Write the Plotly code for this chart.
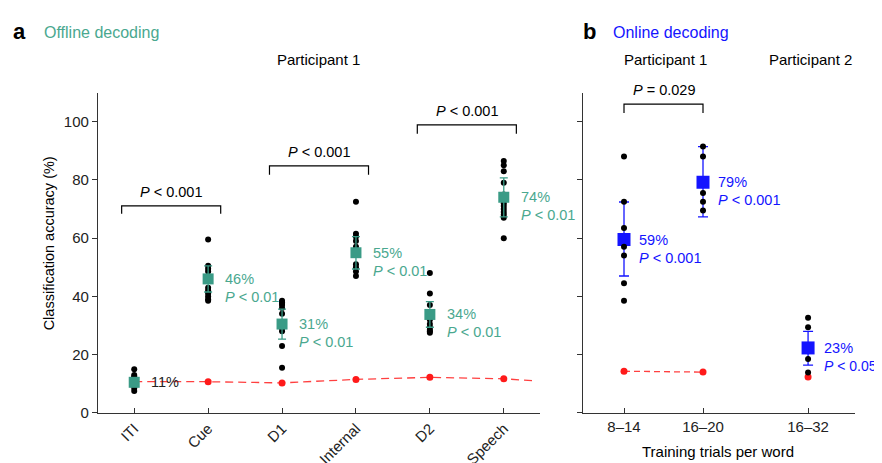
import plotly.graph_objects as go

# ---------------- data ----------------
categories = ["ITI", "Cue", "D1", "Internal", "D2", "Speech"]
iti_pts = [15, 13, 12.5, 12, 11, 10, 9.5, 8.5, 7.5]
cue_pts = [59.5, 50.5, 49.5, 48.5, 43, 42, 41, 40, 39, 38.5]
d1_pts = [38.5, 38, 37.5, 37, 36, 34, 31, 29, 28, 23, 15.5]
internal_pts = [72.5, 61.5, 60.5, 59, 57, 51, 50, 48.5, 47]
d2_pts = [48, 41, 37, 34, 32, 30.5, 29.5, 28.5, 28, 27.5]
speech_pts = [86.5, 85, 83, 79, 75, 72, 71, 70, 69, 68, 67, 60]
offline_mean = [10.5, 46, 30.5, 55, 33.8, 74]
offline_err_hi = [1.5, 4.5, 5.1, 5.5, 4.4, 6.7]
offline_err_lo = [1.5, 4.5, 5.2, 5.6, 4.4, 6.7]
offline_labels = ["11%", "46%", "31%", "55%", "34%", "74%"]
offline_p = ["", "P < 0.01", "P < 0.01", "P < 0.01", "P < 0.01", "P < 0.01"]
offline_chance = [10.7, 10.7, 10.3, 11.5, 12.2, 11.7]
offline_chance_end = 11.0

online_ticks = ["8–14", "16–20", "16–32"]
p1_8_14_pts = [88, 72.5, 63.5, 57, 54, 44.5, 38.5]
p1_16_20_pts = [91.5, 88, 75.5, 72.5, 69.5]
p2_16_32_pts = [32.7, 29.4, 18.5, 13.9]
online_mean = [59.5, 79.2, 22.3]
online_err_hi = [12.9, 12.2, 5.7]
online_err_lo = [12.5, 11.9, 5.9]
online_labels = ["59%", "79%", "23%"]
online_p = ["P < 0.001", "P < 0.001", "P < 0.05"]
online_chance = [14.3, 14.0, 12.3]

offline_brackets = [("ITI", "Cue", 71.1, 68.4, "P < 0.001"),
                    ("D1", "Internal", 84.8, 81.8, "P < 0.001"),
                    ("D2", "Speech", 98.9, 95.8, "P < 0.001")]
online_bracket = ("8–14", "16–20", 106.0, 103.0, "P = 0.029")

# ---------------- style / layout ----------------
# the page shifts the figure 8px to the right, so it is drawn 8px narrower
XOFF = 8
W, H = 882 - XOFF, 463
FONT = "Liberation Sans, Arial, sans-serif"
TEAL = "#3a9b86"
TEAL_TXT = "#4aa88f"
BLUE = "#1414ff"
RED = "#ff1a1a"
AX = "#333333"


def px(x):
    return (x - XOFF) / W


def py(y):
    return 1 - y / H


online_pos = [0.0, 1.0, 2.33]
off_x = list(range(len(categories)))

fig = go.Figure()

# chance line panel a
fig.add_trace(go.Scatter(x=off_x + [5.43], y=offline_chance + [offline_chance_end],
                         mode="lines", line=dict(color="#ff4040", width=1.3, dash="8px,5px"),
                         xaxis="x", yaxis="y", hoverinfo="skip"))
fig.add_trace(go.Scatter(x=off_x, y=offline_chance, mode="markers",
                         marker=dict(color=RED, size=7), xaxis="x", yaxis="y"))

pts_list = [iti_pts, cue_pts, d1_pts, internal_pts, d2_pts, speech_pts]
for i, pts in enumerate(pts_list):
    fig.add_trace(go.Scatter(x=[i] * len(pts), y=pts, mode="markers",
                             marker=dict(color="black", size=6), xaxis="x", yaxis="y"))

fig.add_trace(go.Scatter(x=off_x, y=offline_mean, mode="markers",
                         marker=dict(color=TEAL, size=11, symbol="square"),
                         error_y=dict(type="data", array=offline_err_hi, arrayminus=offline_err_lo,
                                      color=TEAL, thickness=1.3, width=4),
                         xaxis="x", yaxis="y"))

# panel b
fig.add_trace(go.Scatter(x=online_pos[:2], y=online_chance[:2], mode="lines",
                         line=dict(color="#ff4040", width=1.3, dash="6px,4px"),
                         xaxis="x2", yaxis="y2"))
fig.add_trace(go.Scatter(x=online_pos, y=online_chance, mode="markers",
                         marker=dict(color=RED, size=7), xaxis="x2", yaxis="y2"))
fig.add_trace(go.Scatter(x=online_pos, y=online_mean, mode="markers",
                         marker=dict(color=BLUE, size=13, symbol="square"),
                         error_y=dict(type="data", array=online_err_hi, arrayminus=online_err_lo,
                                      color=BLUE, thickness=1.3, width=5),
                         xaxis="x2", yaxis="y2"))
for i, pts in enumerate([p1_8_14_pts, p1_16_20_pts, p2_16_32_pts]):
    fig.add_trace(go.Scatter(x=[online_pos[i]] * len(pts), y=pts, mode="markers",
                             marker=dict(color="black", size=6), xaxis="x2", yaxis="y2"))

shapes = []
annotations = []


def ptext(s):
    return s.replace("P ", "<i>P</i> ").replace("<i>P</i> < ", "<i>P</i> &lt; ")


for a, b, top, leg, txt in offline_brackets:
    xa = categories.index(a) - 0.17
    xb = categories.index(b) + 0.17
    shapes.append(dict(type="path", xref="x", yref="y",
                       path=f"M {xa},{leg} L {xa},{top} L {xb},{top} L {xb},{leg}",
                       line=dict(color="black", width=1.2)))
    annotations.append(dict(x=(xa + xb) / 2, y=top, xref="x", yref="y", yshift=14,
                            text=ptext(txt), showarrow=False,
                            font=dict(size=14.5, color="black", family=FONT)))

a, b, top, leg, txt = online_bracket
xa = online_pos[online_ticks.index(a)]
xb = online_pos[online_ticks.index(b)]
shapes.append(dict(type="path", xref="x2", yref="y2",
                   path=f"M {xa},{leg} L {xa},{top} L {xb},{top} L {xb},{leg}",
                   line=dict(color="black", width=1.2)))
annotations.append(dict(x=(xa + xb) / 2, y=top, xref="x2", yref="y2", yshift=14,
                        text=ptext(txt), showarrow=False,
                        font=dict(size=14.5, color="black", family=FONT)))

for i, (lab, p) in enumerate(zip(offline_labels, offline_p)):
    col = "#222222" if i == 0 else TEAL_TXT
    annotations.append(dict(x=i + 0.2, y=offline_mean[i], xref="x", yref="y", xanchor="left",
                            text=lab, showarrow=False, font=dict(size=14.5, color=col, family=FONT)))
    if p:
        annotations.append(dict(x=i + 0.2, y=offline_mean[i], xref="x", yref="y", xanchor="left",
                                yshift=-18, text=ptext(p), showarrow=False,
                                font=dict(size=14.5, color=col, family=FONT)))

for i, (lab, p) in enumerate(zip(online_labels, online_p)):
    annotations.append(dict(x=online_pos[i] + 0.17, y=online_mean[i], xref="x2", yref="y2",
                            xanchor="left", text=lab, showarrow=False,
                            font=dict(size=14.5, color=BLUE, family=FONT)))
    annotations.append(dict(x=online_pos[i] + 0.17, y=online_mean[i], xref="x2", yref="y2",
                            xanchor="left", yshift=-18, text=ptext(p), showarrow=False,
                            font=dict(size=14 if i == 2 else 14.5, color=BLUE, family=FONT)))


def paper_text(x, y, text, size, color="black", xanchor="center", angle=0):
    annotations.append(dict(x=px(x), y=py(y), xref="paper", yref="paper", text=text,
                            showarrow=False, xanchor=xanchor, yanchor="middle", textangle=angle,
                            font=dict(size=size, color=color, family=FONT)))


paper_text(19.5, 24, "<b>a</b>", 22)
paper_text(42, 25, "Offline decoding", 16, TEAL_TXT, "left")
paper_text(589, 24, "<b>b</b>", 22)
paper_text(611, 25, "Online decoding", 16, BLUE, "left")
paper_text(318, 52, "Participant 1", 15)
paper_text(665, 52, "Participant 1", 15)
paper_text(810, 52, "Participant 2", 15)
paper_text(48.5, 240, "Classification accuracy (%)", 14.5, angle=-90)
paper_text(718, 451, "Training trials per word", 15)

ydom = [py(412), py(86)]
common_y = dict(range=[0, 110], showgrid=False, zeroline=False, showline=True, linecolor=AX,
                linewidth=1.2, ticks="outside", ticklen=5, tickcolor=AX, tickwidth=1.2,
                tickvals=[0, 20, 40, 60, 80, 100])

fig.update_layout(
    width=W, height=H, margin=dict(l=0, r=0, t=0, b=0),
    paper_bgcolor="white", plot_bgcolor="white", showlegend=False,
    font=dict(family=FONT, size=14, color="#222222"),
    xaxis=dict(domain=[px(98), px(540)], range=[-0.49, 5.49], tickvals=off_x,
               ticktext=categories, tickangle=-45, showgrid=False, zeroline=False,
               showline=True, linecolor=AX, linewidth=1.2, ticks="inside", ticklen=5,
               tickcolor=AX, tickfont=dict(size=15, color="#222222"), anchor="y"),
    yaxis=dict(domain=ydom, anchor="x", tickfont=dict(size=15, color="#222222"), **common_y),
    xaxis2=dict(domain=[px(583), px(855)], range=[-0.519, 2.924], tickvals=online_pos,
                ticktext=online_ticks, showgrid=False, zeroline=False, showline=True,
                linecolor=AX, linewidth=1.2, ticks="inside", ticklen=5, tickcolor=AX,
                tickfont=dict(size=15, color="#222222"), anchor="y2"),
    yaxis2=dict(domain=ydom, anchor="x2", showticklabels=False, **common_y),
    shapes=shapes, annotations=annotations,
)

fig.write_html("out.html")
